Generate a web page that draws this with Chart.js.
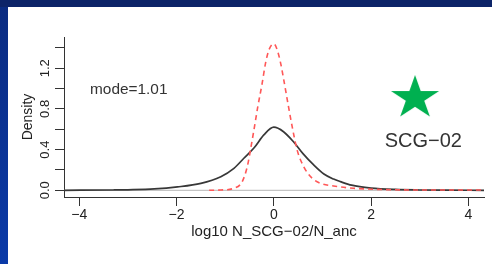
<!DOCTYPE html>
<html>
<head>
<meta charset="utf-8">
<script src="https://cdn.jsdelivr.net/npm/chart.js@4.4.1/dist/chart.umd.min.js"></script>
<style>
  html, body { margin: 0; padding: 0; }
  body { width: 492px; height: 264px; position: relative; overflow: hidden; background: linear-gradient(#0a2b80, #0a3aa8); }
  #topband { position: absolute; left: 0; top: 0; width: 492px; height: 7px; background: #0c2468; }
  #sheet { position: absolute; left: 8px; top: 7px; right: 0; bottom: 0; background: #fff; }
  #densityChart { position: absolute; left: 0; top: 0; }
</style>
</head>
<body>
<div id="topband"></div>
<div id="sheet"></div>
<canvas id="densityChart" width="492" height="264"></canvas>
<script>
// density curves
const blackX = [-4.315, -3.3, -3.0, -2.46, -1.98, -1.5, -1.09, -0.82, -0.616, -0.4, -0.205, 0, 0.2, 0.4, 0.6, 0.82, 1.03, 1.23, 1.37, 1.6, 2.0, 2.5, 3.0, 3.5, 4.323];
const blackY = [0, 0.003, 0.005, 0.013, 0.033, 0.068, 0.134, 0.216, 0.315, 0.42, 0.544, 0.62, 0.576, 0.48, 0.36, 0.249, 0.16, 0.11, 0.085, 0.05, 0.022, 0.008, 0.003, 0.001, 0];

const redX = [-1.33, -1.09, -0.82, -0.65, -0.546, -0.48, -0.41, -0.33, -0.24, -0.17, -0.1, 0, 0.07, 0.14, 0.205, 0.29, 0.378, 0.48, 0.616, 0.79, 0.96, 1.23, 1.64, 1.92, 2.6, 3.5, 4.323];
const redY = [0, 0.003, 0.02, 0.085, 0.232, 0.396, 0.59, 0.82, 1.05, 1.25, 1.38, 1.44, 1.38, 1.25, 1.085, 0.855, 0.625, 0.396, 0.232, 0.118, 0.069, 0.042, 0.02, 0.013, 0.004, 0.003, 0.003];

// gray baseline at zero
const zeroX = [-4.315, 4.323];
const zeroY = [0, 0];

// star marker
const starX = [2.904];
const starY = [0.907];

const xTicks = [-4, -2, 0, 2, 4];
const xTickLabels = ['\u22124', '\u22122', '0', '2', '4'];
const yTicks = [0, 0.2, 0.4, 0.6, 0.8, 1.0, 1.2, 1.4];
const yTickLabels = ['0.0', '', '0.4', '', '0.8', '', '1.2', ''];

const notes = [
    { text: 'mode=1.01', x: -3.78, y: 0.944, size: 14, stretch: 1.1, align: 'left' },
    { text: 'SCG\u221202', x: 3.075, y: 0.429, size: 20, stretch: 1, align: 'center' }
];

const FONT = '"Liberation Sans", Arial, sans-serif';

function pts(xs, ys) {
    return xs.map((x, i) => ({ x: x, y: ys[i] }));
}

// filled green star used as point style
function makeStar() {
    const c = document.createElement('canvas');
    c.width = 52;
    c.height = 46;
    const g = c.getContext('2d');
    g.fillStyle = '#00b050';
    g.beginPath();
    for (let k = 0; k < 10; k++) {
        const a = -Math.PI / 2 + k * Math.PI / 5;
        const r = k % 2 === 0 ? 23 : 8.8;
        const px = 26 + 1.1 * r * Math.cos(a);
        const py = 23 + r * Math.sin(a);
        if (k === 0) g.moveTo(px, py); else g.lineTo(px, py);
    }
    g.closePath();
    g.fill();
    return c;
}

const notesPlugin = {
    id: 'notes',
    afterDatasetsDraw(chart) {
        const ctx = chart.ctx;
        const sx = chart.scales.x, sy = chart.scales.y;
        notes.forEach(n => {
            ctx.save();
            ctx.translate(sx.getPixelForValue(n.x), sy.getPixelForValue(n.y));
            ctx.scale(n.stretch, 1);
            ctx.font = n.size + 'px ' + FONT;
            ctx.fillStyle = '#333';
            ctx.textAlign = n.align;
            ctx.textBaseline = 'alphabetic';
            ctx.fillText(n.text, 0, 0);
            ctx.restore();
        });
    }
};

const ctx = document.getElementById('densityChart').getContext('2d');
const densityChart = new Chart(ctx, {
    type: 'scatter',
    data: {
        datasets: [
            {
                data: pts(starX, starY),
                pointStyle: makeStar(),
                pointRadius: 20,
                showLine: false
            },
            {
                data: pts(redX, redY),
                showLine: true,
                borderColor: '#ff5757',
                borderWidth: 1.6,
                borderDash: [5, 4],
                pointRadius: 0,
                cubicInterpolationMode: 'monotone'
            },
            {
                data: pts(blackX, blackY),
                showLine: true,
                borderColor: '#383838',
                borderWidth: 1.7,
                pointRadius: 0,
                cubicInterpolationMode: 'monotone'
            },
            {
                data: pts(zeroX, zeroY),
                showLine: true,
                borderColor: '#c4c4c4',
                borderWidth: 1.2,
                pointRadius: 0
            }
        ]
    },
    options: {
        responsive: false,
        animation: false,
        devicePixelRatio: 1,
        layout: { autoPadding: false, padding: { left: 16, top: 37, right: 8, bottom: 19 } },
        plugins: {
            legend: { display: false },
            tooltip: { enabled: false }
        },
        scales: {
            x: {
                type: 'linear',
                min: -4.315,
                max: 4.323,
                afterBuildTicks: s => { s.ticks = xTicks.map(v => ({ value: v })); },
                afterFit: s => { s.height = 48; },
                ticks: {
                    autoSkip: false,
                    maxRotation: 0,
                    padding: 1,
                    color: '#222',
                    font: { family: FONT, size: 14 },
                    callback: (v, i) => xTickLabels[i]
                },
                grid: { drawOnChartArea: false, drawTicks: true, tickLength: 9, color: '#333', lineWidth: 1 },
                border: { display: true, color: '#333', width: 1 },
                title: {
                    display: true,
                    text: 'log10 N_SCG\u221202/N_anc',
                    color: '#222',
                    font: { family: FONT, size: 15 },
                    padding: { top: 0, bottom: 4 }
                }
            },
            y: {
                type: 'linear',
                min: -0.066,
                max: 1.507,
                afterBuildTicks: s => { s.ticks = yTicks.map(v => ({ value: v })); },
                afterFit: s => { s.width = 48; },
                ticks: {
                    autoSkip: false,
                    minRotation: 90,
                    maxRotation: 90,
                    crossAlign: 'center',
                    padding: 1,
                    color: '#222',
                    font: { family: FONT, size: 13 },
                    callback: (v, i) => yTickLabels[i]
                },
                grid: { drawOnChartArea: false, drawTicks: true, tickLength: 9, color: '#333', lineWidth: 1 },
                border: { display: true, color: '#333', width: 1 },
                title: {
                    display: true,
                    text: 'Density',
                    color: '#222',
                    font: { family: FONT, size: 14 },
                    padding: { top: 4, bottom: 0 }
                }
            }
        }
    },
    plugins: [notesPlugin]
});
</script>
</body>
</html>
